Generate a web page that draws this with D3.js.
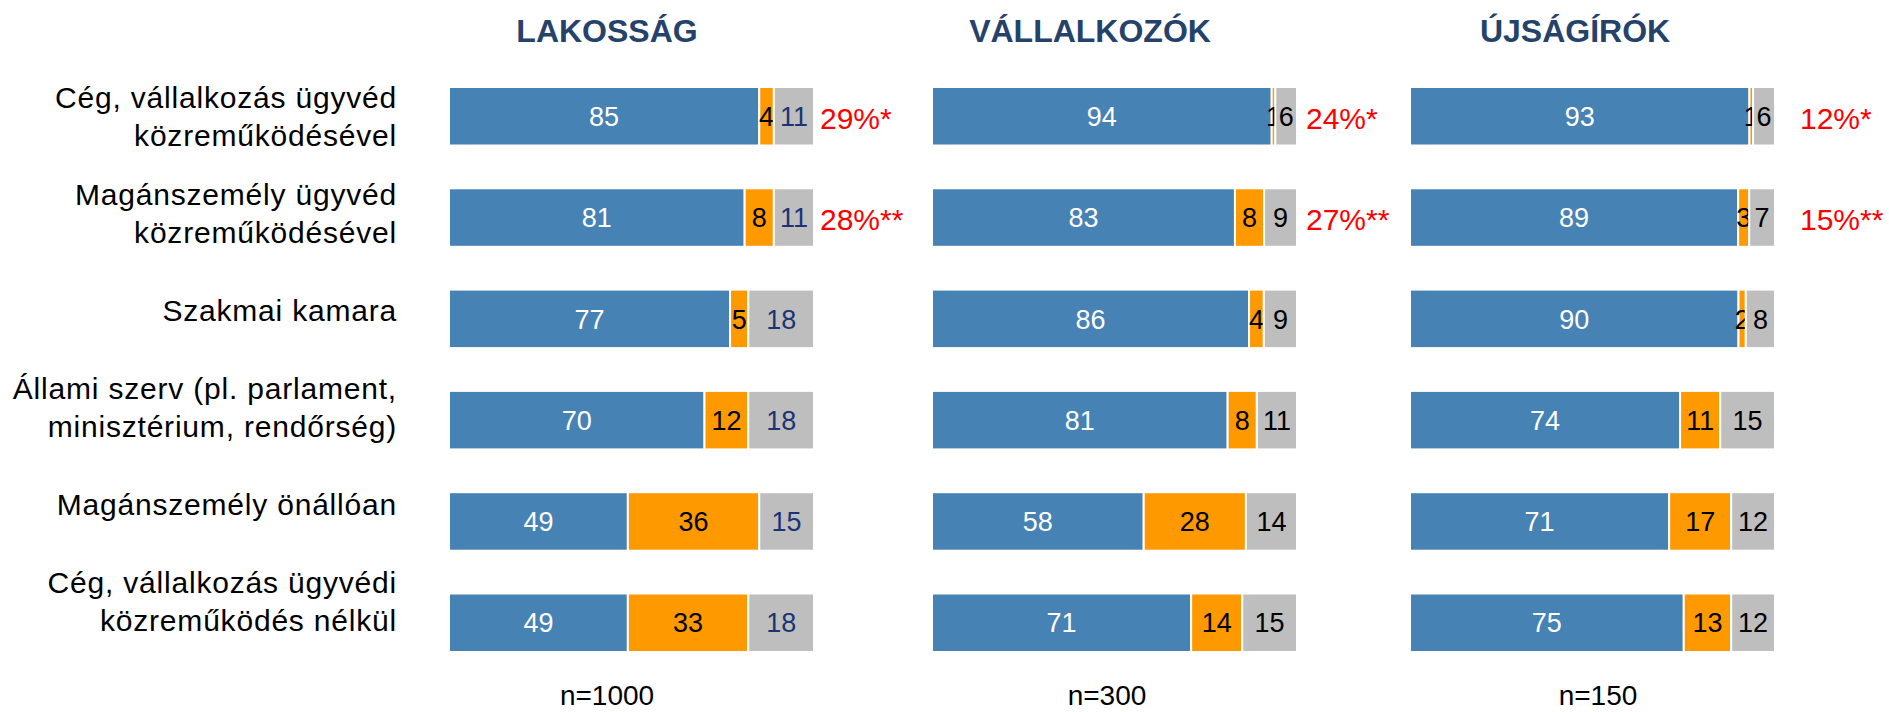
<!DOCTYPE html>
<html>
<head>
<meta charset="utf-8">
<script src="https://cdn.jsdelivr.net/npm/d3@7"></script>
<style>
  html, body { margin: 0; padding: 0; background: #fff; }
  svg { display: block; font-family: "Liberation Sans", Arial, sans-serif; }
</style>
</head>
<body>
<svg id="chart" width="1889" height="712"></svg>
<script>
// ---------- DATA ----------
const categories = [
  "Cég, vállalkozás ügyvéd\nközreműködésével",
  "Magánszemély ügyvéd\nközreműködésével",
  "Szakmai kamara",
  "Állami szerv (pl. parlament,\nminisztérium, rendőrség)",
  "Magánszemély önállóan",
  "Cég, vállalkozás ügyvédi\nközreműködés nélkül"
];
const panelTitles = ["LAKOSSÁG", "VÁLLALKOZÓK", "ÚJSÁGÍRÓK"];
const sampleSizes = ["n=1000", "n=300", "n=150"];
const seriesKeys = ["s1", "s2", "s3"];

const lakossag1 = [85, 81, 77, 70, 49, 49];
const lakossag2 = [4, 8, 5, 12, 36, 33];
const lakossag3 = [11, 11, 18, 18, 15, 18];

const vallalkozok1 = [94, 83, 86, 81, 58, 71];
const vallalkozok2 = [1, 8, 4, 8, 28, 14];
const vallalkozok3 = [6, 9, 9, 11, 14, 15];

const ujsagirok1 = [93, 89, 90, 74, 71, 75];
const ujsagirok2 = [1, 3, 2, 11, 17, 13];
const ujsagirok3 = [6, 7, 8, 15, 12, 12];

const lakossagNotes = ["29%*", "28%**"];
const vallalkozokNotes = ["24%*", "27%**"];
const ujsagirokNotes = ["12%*", "15%**"];

// ---------- LAYOUT / STYLE ----------
const colors = { s1: "#4682B4", s2: "#FF9900", s3: "#BEBEBE" };
const panelX0 = [449, 932, 1410];
const panelW = 365;
const titleX = [607, 1090, 1575];
const nX = [607, 1107, 1598];
const noteOffset = [6, 9, 25];
const grayLabelColor = ["#1B3474", "#000", "#000"];

const panelData = [
  [lakossag1, lakossag2, lakossag3, lakossagNotes],
  [vallalkozok1, vallalkozok2, vallalkozok3, vallalkozokNotes],
  [ujsagirok1, ujsagirok2, ujsagirok3, ujsagirokNotes]
];

const svg = d3.select("#chart");

// bar rows
const y = d3.scaleBand()
  .domain(categories)
  .range([65.6, 673.4])
  .paddingInner(0.4225)
  .paddingOuter(0.21125);

// category labels (own spacing)
const yLab = d3.scalePoint().domain(categories).range([116, 601]);

// Category labels
const catG = svg.append("g");
categories.forEach(c => {
  const lines = c.split("\n");
  const t = catG.append("text")
    .attr("text-anchor", "end")
    .attr("font-size", 30)
    .attr("letter-spacing", "0.8px")
    .attr("fill", "#000");
  lines.forEach((ln, i) => {
    t.append("tspan")
      .attr("x", 397)
      .attr("y", yLab(c) + (i - (lines.length - 1) / 2) * 38 + 10.5)
      .text(ln);
  });
});

panelData.forEach((pd, p) => {
  const [a, b, cc, notes] = pd;
  const rows = categories.map((cat, i) => ({ cat, s1: a[i], s2: b[i], s3: cc[i] }));
  const stack = d3.stack().keys(seriesKeys).offset(d3.stackOffsetExpand)(rows);
  const x = d3.scaleLinear().domain([0, 1]).range([panelX0[p], panelX0[p] + panelW]);
  const g = svg.append("g");

  // Title
  g.append("text")
    .attr("x", titleX[p]).attr("y", 42.3)
    .attr("text-anchor", "middle")
    .attr("font-size", 32).attr("font-weight", "bold")
    .attr("fill", "#25426A")
    .text(panelTitles[p]);

  // Sample size
  g.append("text")
    .attr("x", nX[p]).attr("y", 705)
    .attr("text-anchor", "middle")
    .attr("font-size", 28)
    .attr("fill", "#000")
    .text(sampleSizes[p]);

  stack.forEach(layer => {
    const key = layer.key;
    const lg = g.append("g");
    lg.selectAll("rect").data(layer).join("rect")
      .attr("x", d => x(d[0]))
      .attr("y", d => y(d.data.cat))
      .attr("width", d => Math.max(0, x(d[1]) - x(d[0])))
      .attr("height", y.bandwidth())
      .attr("fill", colors[key])
      .attr("stroke", "#fff")
      .attr("stroke-width", 2);
    lg.selectAll("text").data(layer).join("text")
      .attr("x", d => (x(d[0]) + x(d[1])) / 2)
      .attr("y", d => y(d.data.cat) + y.bandwidth() / 2 + 9.7)
      .attr("text-anchor", "middle")
      .attr("font-size", 27)
      .attr("fill", key === "s1" ? "#fff" : key === "s2" ? "#000" : grayLabelColor[p])
      .text(d => d.data[key]);
  });

  // Red notes
  notes.forEach((n, i) => {
    const cat = categories[i];
    g.append("text")
      .attr("x", x(1) + noteOffset[p])
      .attr("y", y(cat) + y.bandwidth() / 2 + 12.5)
      .attr("font-size", 30)
      .attr("fill", "#FF0000")
      .text(n);
  });
});
</script>
</body>
</html>
